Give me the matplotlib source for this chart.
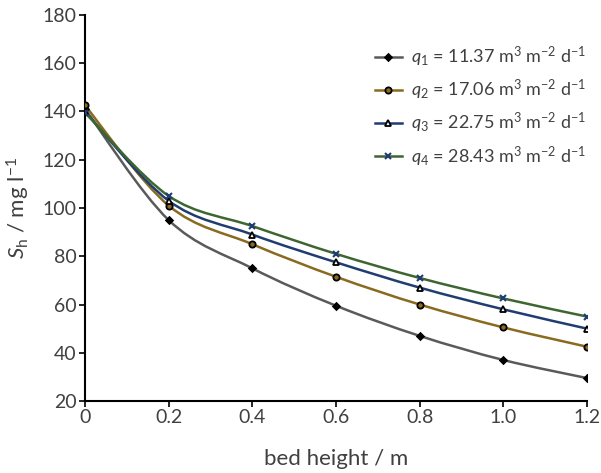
import numpy as np
import matplotlib.pyplot as plt
from matplotlib.path import Path
from matplotlib.patches import PathPatch

plt.rcParams['font.family'] = ['Lato', 'DejaVu Sans']
plt.rcParams['mathtext.fontset'] = 'custom'
plt.rcParams['mathtext.rm'] = 'Lato'
plt.rcParams['mathtext.it'] = 'Lato:italic'

# bed height (m) and residual concentration S_h (mg/l) for each hydraulic load
height = [0, 0.2, 0.4, 0.6, 0.8, 1.0, 1.2]
s_q1 = [141, 95, 75, 59.5, 47, 37, 29.5]
s_q2 = [142.5, 101, 85, 71.5, 60, 50.5, 42.5]
s_q3 = [140, 103, 89, 77.5, 67, 58, 50]
s_q4 = [139.5, 105, 92.5, 81, 71, 62.5, 55]

labels = [r'$q_1$ = 11.37 m$^3$ m$^{-2}$ d$^{-1}$',
          r'$q_2$ = 17.06 m$^3$ m$^{-2}$ d$^{-1}$',
          r'$q_3$ = 22.75 m$^3$ m$^{-2}$ d$^{-1}$',
          r'$q_4$ = 28.43 m$^3$ m$^{-2}$ d$^{-1}$']
colors = ['#5a5a5a', '#8a6a1e', '#1f3d70', '#3d6630']
markers = ['D', 'o', '^', 'x']
face = ['black', '#8a6a1e', 'white', 'none']


def smooth_path(x, y):
    # Catmull-Rom style bezier through the points (like a spreadsheet "smoothed line")
    x = np.asarray(x, float)
    y = np.asarray(y, float)
    verts = [(x[0], y[0])]
    codes = [Path.MOVETO]
    n = len(x)
    for i in range(n - 1):
        p0 = np.array([x[max(i - 1, 0)], y[max(i - 1, 0)]])
        p1 = np.array([x[i], y[i]])
        p2 = np.array([x[i + 1], y[i + 1]])
        p3 = np.array([x[min(i + 2, n - 1)], y[min(i + 2, n - 1)]])
        c1 = p1 + (p2 - p0) / 6
        c2 = p2 - (p3 - p1) / 6
        verts += [tuple(c1), tuple(c2), tuple(p2)]
        codes += [Path.CURVE4] * 3
    return Path(verts, codes)


fig = plt.figure(figsize=(6.01, 4.73), dpi=100)
ax = fig.add_axes([0.1414, 0.1522, 0.8353, 0.8161])

series = [s_q1, s_q2, s_q3, s_q4]
for s, lab, c, m, fc in zip(series, labels, colors, markers, face):
    ax.add_patch(PathPatch(smooth_path(height, s), facecolor='none',
                           edgecolor=c, lw=1.8, zorder=2))
    if m == 'x':
        mk = dict(marker=m, ms=4.5, mew=1.5, mec='#1f3d70')
    else:
        mk = dict(marker=m, ms=3.5 if m == 'D' else 4.5, mew=1.3, mec='black', mfc=fc)
    ax.plot(height, s, ls='none', zorder=3, **mk)
    ax.plot([], [], color=c, lw=1.8, label=lab, **mk)

ax.set_xlim(0, 1.2)
ax.set_ylim(20, 180)
ax.set_xticks(height)
ax.set_xticklabels(['0', '0.2', '0.4', '0.6', '0.8', '1.0', '1.2'])
ax.set_yticks(range(20, 181, 20))

for side in ['top', 'right']:
    ax.spines[side].set_visible(False)
for side in ['left', 'bottom']:
    ax.spines[side].set_linewidth(1.5)
ax.tick_params(direction='out', length=4, width=1.2, labelsize=14,
               labelcolor='#404040', pad=2)

ax.set_xlabel('bed height / m', fontsize=16, color='#404040', labelpad=16)
ax.set_ylabel(r'$S_{\mathrm{h}}$ / mg l$^{-1}$', fontsize=16, color='#404040', labelpad=8)

ax.legend(loc='upper right', bbox_to_anchor=(1.03, 0.965), frameon=False,
          fontsize=13, handlelength=1.5, handletextpad=0.5, labelspacing=0.5,
          labelcolor='#404040')

fig.savefig('out.png', dpi=100)
